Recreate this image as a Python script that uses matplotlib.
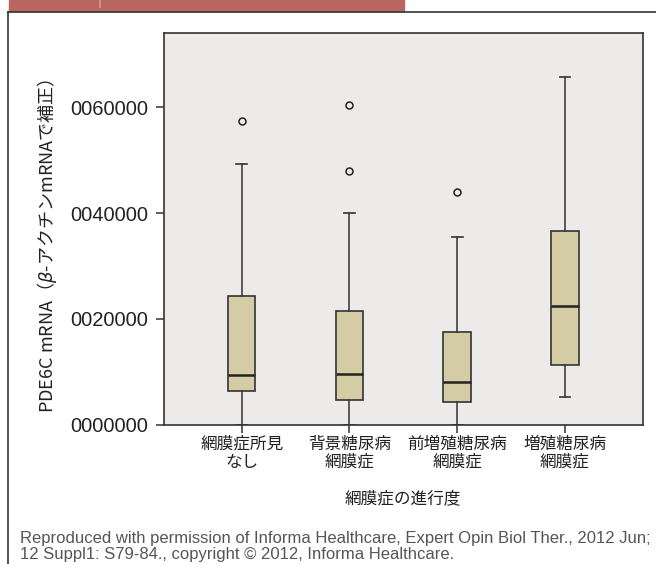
import numpy as np
import matplotlib
matplotlib.use("Agg")
import matplotlib.pyplot as plt
from matplotlib.lines import Line2D
from matplotlib.patches import Rectangle

plt.rcParams['font.family'] = ['Noto Sans CJK JP', 'DejaVu Sans']

# 網膜症の進行度ごとの PDE6C mRNA（β-アクチン補正）
groups = ['網膜症所見\nなし', '背景糖尿病\n網膜症', '前増殖糖尿病\n網膜症', '増殖糖尿病\n網膜症']
q1 = [0.000626, 0.000468, 0.000417, 0.001125]
med = [0.000929, 0.000948, 0.000802, 0.002243]
q3 = [0.002427, 0.002148, 0.001744, 0.003665]
whislo = [0.0, 0.0, 0.0, 0.000525]
whishi = [0.004935, 0.003994, 0.003558, 0.006578]
fliers = [[0.00575], [0.006041, 0.00479], [0.004392], []]

yticks = [0.0, 0.002, 0.004, 0.006]
ytick_labels = ['0000000', '0020000', '0040000', '0060000']

W, H = 656, 564
fig = plt.figure(figsize=(W / 100, H / 100), dpi=100)

# 上部の帯と枠線
fig.patches.append(Rectangle((9 / W, 1 - 11 / H), 395 / W, 11 / H,
                             transform=fig.transFigure, color='#b8665f', zorder=0))
fig.lines.append(Line2D([100 / W, 100 / W], [1 - 7 / H, 1], transform=fig.transFigure,
                        color='#d99a94', lw=1.2))
fig.lines.append(Line2D([8 / W, 1], [1 - 12 / H, 1 - 12 / H], transform=fig.transFigure,
                        color='#333333', lw=1.2))
fig.lines.append(Line2D([8 / W, 8 / W], [0, 1 - 12 / H], transform=fig.transFigure,
                        color='#333333', lw=1.2))

ax = fig.add_axes([163.5 / W, 1 - 424.5 / H, 479 / W, 391.5 / H])
ax.set_facecolor('#edebe9')

stats = []
for i in range(len(groups)):
    stats.append({'q1': q1[i], 'med': med[i], 'q3': q3[i],
                  'whislo': whislo[i], 'whishi': whishi[i], 'fliers': fliers[i]})

ax.bxp(stats, positions=[1, 2, 3, 4], widths=0.255, capwidths=0.1,
       patch_artist=True, showfliers=True,
       boxprops=dict(facecolor='#d4cca4', edgecolor='#333333', lw=1.2),
       medianprops=dict(color='#222222', lw=1.8),
       whiskerprops=dict(color='#333333', lw=1.1),
       capprops=dict(color='#333333', lw=1.2),
       flierprops=dict(marker='o', markerfacecolor='none', markeredgecolor='#222222',
                       markersize=5, markeredgewidth=1.1))

ax.set_xlim(0.274, 4.72)
ax.set_ylim(0, 0.00741)
ax.set_yticks(yticks)
ax.set_yticklabels(ytick_labels, family=['Liberation Sans', 'DejaVu Sans'], fontsize=14.5,
                   color='#222222')
ax.set_xticks([1, 2, 3, 4])
ax.set_xticklabels(groups, fontsize=12, color='#222222', linespacing=1.1)
ax.tick_params(axis='both', direction='out', length=6, width=1.1, color='#333333')
ax.tick_params(axis='y', pad=5)
ax.tick_params(axis='x', pad=2)
for s in ax.spines.values():
    s.set_color('#333333')
    s.set_linewidth(1.2)

ax.set_ylabel('PDE6C mRNA（$\\mathit{β}$-アクチンmRNAで補正）', fontsize=13, color='#222222')
ax.yaxis.set_label_coords(-0.219, 0.456)
ax.set_xlabel('網膜症の進行度', fontsize=12, color='#222222', labelpad=14)

fig.text(20 / W, 1 - 538 / H,
         'Reproduced with permission of Informa Healthcare, Expert Opin Biol Ther., 2012 Jun;',
         family=['Liberation Sans', 'DejaVu Sans'], fontsize=12.0, color='#555555', va='center')
fig.text(20 / W, 1 - 554 / H,
         '12 Suppl1: S79-84., copyright © 2012, Informa Healthcare.',
         family=['Liberation Sans', 'DejaVu Sans'], fontsize=12.0, color='#555555', va='center')

fig.savefig('out.png', dpi=100)
